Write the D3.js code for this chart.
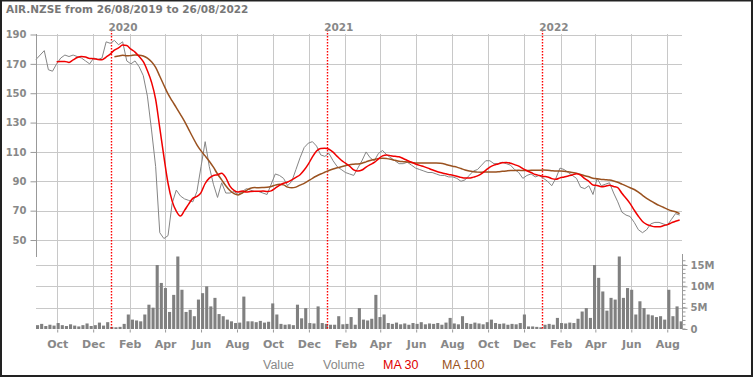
<!DOCTYPE html>
<html>
<head>
<meta charset="utf-8">
<script src="https://cdn.jsdelivr.net/npm/d3@7"></script>
<style>
  body { margin: 0; background: #fff; }
  svg { display: block; }
</style>
</head>
<body>
<div id="chart"></div>
<script>
// Weekly closes (NZD cents) from 26/08/2019, one value per week
const weekStart = "2019-08-26";
const closes = [
  173, 176, 179, 166, 165, 170, 174, 176, 175, 176,
  175, 174, 172, 170, 174, 173, 174, 185, 184, 186,
  183, 185, 172, 170, 172, 168, 162, 148, 125, 100,
  55, 51, 53, 75, 84, 80, 78, 77, 76, 83,
  100, 117, 100, 88, 79, 89, 82, 82, 83, 81,
  83, 85, 84, 83, 83, 82, 81, 88, 95, 94,
  92, 87, 90, 98, 106, 113, 116, 117, 114, 108,
  107, 109, 104, 100, 98, 96, 95, 94, 99, 104,
  110, 106, 104, 109, 111, 108, 106, 104, 102, 102,
  103, 101, 99, 98, 97, 96, 96, 95, 94, 94,
  93, 93, 92, 90, 91, 94, 97, 98, 101, 104,
  104, 102, 102, 103, 102, 101, 98, 96, 92, 94,
  95, 93, 94, 92, 90, 87, 92, 99, 98, 96,
  94, 92, 86, 85, 87, 81, 92, 87, 88, 89,
  82, 76, 69, 67, 66, 62, 57, 55, 57, 61,
  62, 62, 61, 60, 64, 68, 67
];
// Weekly volume, millions of shares
const volumes = [
  0.9, 1.2, 0.7, 1.0, 0.8, 1.4, 0.9, 0.7, 1.1, 0.8,
  0.6, 0.9, 1.3, 0.7, 0.9, 1.5, 0.8, 1.6, 0.5, 0.4,
  0.5, 1.2, 3.4, 2.2, 2.0, 1.8, 3.4, 5.7, 5.0, 15.0,
  10.8, 9.6, 4.0, 8.0, 17.0, 9.2, 4.0, 4.5, 3.0, 6.9,
  8.4, 10.0, 5.3, 7.3, 3.5, 3.0, 2.2, 1.8, 1.4, 1.5,
  7.6, 1.8, 1.8, 1.6, 1.9, 1.5, 1.7, 6.0, 3.4, 1.2,
  1.0, 1.1, 0.9, 5.7, 2.5, 4.9, 1.4, 1.3, 5.3, 1.4,
  1.2, 1.0, 1.0, 3.0, 1.1, 1.2, 2.8, 1.0, 4.9, 2.2,
  2.0, 2.4, 8.0, 2.8, 3.4, 1.4, 1.2, 1.5, 1.1, 1.3,
  1.0, 1.4, 1.2, 1.6, 1.1, 1.3, 1.2, 1.4, 1.0, 1.5,
  2.6, 1.3, 1.1, 3.0, 1.4, 1.2, 1.5, 1.3, 1.1, 1.6,
  2.2, 1.4, 1.2, 1.3, 1.0, 1.2, 1.1, 1.4, 3.4, 0.6,
  0.6, 0.5, 0.4, 1.0, 1.2, 1.0, 2.6, 1.4, 1.3, 1.5,
  1.4, 2.4, 4.1, 4.9, 2.6, 15.0, 12.0, 8.8, 4.3, 7.3,
  6.9, 17.0, 7.3, 9.6, 9.2, 3.4, 6.5, 4.9, 3.4, 3.2,
  2.8, 3.0, 2.2, 9.2, 3.0, 5.3, 1.8
];
const priceTicks = [50, 70, 90, 110, 130, 150, 170, 190];
const volumeTicks = [0, 5, 10, 15];
const monthTicks = [
  "2019-10-01", "2019-12-01", "2020-02-01", "2020-04-01", "2020-06-01", "2020-08-01",
  "2020-10-01", "2020-12-01", "2021-02-01", "2021-04-01", "2021-06-01", "2021-08-01",
  "2021-10-01", "2021-12-01", "2022-02-01", "2022-04-01", "2022-06-01", "2022-08-01"
];
const yearTicks = ["2020-01-01", "2021-01-01", "2022-01-01"];
const legendItems = [
  { label: "Value", color: "#888" },
  { label: "Volume", color: "#888" },
  { label: "MA 30", color: "#e00000" },
  { label: "MA 100", color: "#9a5220" }
];
const title = "AIR.NZSE from 26/08/2019 to 26/08/2022";

const W = 753, H = 377;
const left = 36, right = 682;
const parse = d3.timeParse("%Y-%m-%d");
const t0 = parse(weekStart);
const rows = closes.map((c, i) => ({ date: d3.timeDay.offset(t0, 7 * i), close: c, vol: volumes[i] }));

// moving averages on weekly closes: 30 trading days ~ 6 weeks, 100 ~ 20 weeks
function movingAverage(vals, n) {
  return vals.map((v, i) => i < n - 1 ? null : d3.mean(vals.slice(i - n + 1, i + 1)));
}
const ma30 = movingAverage(closes, 6);
const ma100 = movingAverage(closes, 20);

const x = d3.scaleTime()
  .domain([t0, parse("2022-08-26")])
  .range([left, right]);
const y = d3.scaleLinear().domain([40, 190]).range([254.7, 34.5]);
const yv = d3.scaleLinear().domain([0, 17.35]).range([329, 255]);

const svg = d3.select("#chart").append("svg")
  .attr("width", W).attr("height", H);

svg.append("rect").attr("width", W).attr("height", H).attr("fill", "#fff");

const boldFont = "DejaVu Sans, Verdana, sans-serif";

svg.append("text")
  .attr("x", 6).attr("y", 13)
  .attr("font-family", boldFont).attr("font-weight", "bold")
  .attr("font-size", 10.5).attr("fill", "#777")
  .text(title);

// grid
const grid = svg.append("g").attr("stroke", "#c8c8c8").attr("stroke-width", 1);
grid.selectAll(".hg").data(priceTicks).join("line")
  .attr("x1", left).attr("x2", right)
  .attr("y1", d => Math.round(y(d)) + 0.5).attr("y2", d => Math.round(y(d)) + 0.5);
grid.selectAll(".vg").data(volumeTicks.slice(1)).join("line")
  .attr("x1", left).attr("x2", right)
  .attr("y1", d => Math.round(yv(d)) + 0.5).attr("y2", d => Math.round(yv(d)) + 0.5);
grid.selectAll(".mg").data(monthTicks).join("line")
  .attr("x1", d => Math.round(x(parse(d))) + 0.5).attr("x2", d => Math.round(x(parse(d))) + 0.5)
  .attr("y1", 34).attr("y2", 329);

// volume bars
const barW = (x(d3.timeDay.offset(t0, 7)) - x(t0)) * 0.75;
svg.append("g").attr("fill", "#808080").selectAll("rect").data(rows).join("rect")
  .attr("x", d => x(d.date))
  .attr("width", barW)
  .attr("y", d => yv(d.vol))
  .attr("height", d => yv(0) - yv(d.vol));

// year separators
svg.append("g").selectAll("line").data(yearTicks).join("line")
  .attr("x1", d => Math.round(x(parse(d))) + 0.5).attr("x2", d => Math.round(x(parse(d))) + 0.5)
  .attr("y1", 30).attr("y2", 329)
  .attr("stroke", "#ff0000").attr("stroke-width", 1.4).attr("stroke-dasharray", "1.5,1.5");
svg.append("g").selectAll("text").data(yearTicks).join("text")
  .attr("x", d => x(parse(d)) - 3).attr("y", 31)
  .attr("font-family", boldFont).attr("font-weight", "bold")
  .attr("font-size", 10.5).attr("fill", "#888")
  .text(d => d.slice(0, 4));

// lines
const priceLine = d3.line().x(d => x(d.date)).y(d => y(d.close));
svg.append("path").datum(rows)
  .attr("fill", "none").attr("stroke", "#858585").attr("stroke-width", 1)
  .attr("d", priceLine);

const maLine = d3.line()
  .defined(d => d.v != null)
  .x(d => x(d.date)).y(d => y(d.v))
  .curve(d3.curveMonotoneX);
svg.append("path").datum(rows.map((r, i) => ({ date: r.date, v: ma100[i] })))
  .attr("fill", "none").attr("stroke", "#9a5220").attr("stroke-width", 1.5)
  .attr("d", maLine);
svg.append("path").datum(rows.map((r, i) => ({ date: r.date, v: ma30[i] })))
  .attr("fill", "none").attr("stroke", "#f00000").attr("stroke-width", 1.5)
  .attr("d", maLine);

// left price axis
const yAxis = svg.append("g")
  .attr("transform", `translate(${left + 0.5},0)`)
  .call(d3.axisLeft(y).tickValues(priceTicks).tickSize(6).tickPadding(4));
yAxis.select(".domain").attr("stroke", "#999").attr("d", `M0,34V257`);
yAxis.selectAll(".tick line").attr("stroke", "#999");
yAxis.selectAll("text")
  .attr("font-family", boldFont).attr("font-weight", "bold")
  .attr("font-size", 10).attr("fill", "#888");

// right volume axis
const vAxis = svg.append("g")
  .attr("transform", `translate(${right + 0.5},0)`)
  .call(d3.axisRight(yv).tickValues(volumeTicks).tickSize(5).tickPadding(3)
    .tickFormat(d => d === 0 ? "0" : d + "M"));
vAxis.select(".domain").attr("stroke", "#999").attr("d", `M0,254V329`);
vAxis.selectAll(".tick line").attr("stroke", "#999");
vAxis.selectAll("text")
  .attr("font-family", boldFont).attr("font-weight", "bold")
  .attr("font-size", 10).attr("fill", "#888");
vAxis.append("g").selectAll("line").data(d3.range(0, 17, 1)).join("line")
  .attr("x1", 0).attr("x2", 3)
  .attr("y1", d => yv(d)).attr("y2", d => yv(d))
  .attr("stroke", "#999");

// bottom month axis
const xAxis = svg.append("g")
  .attr("transform", "translate(0,329.5)")
  .call(d3.axisBottom(x).tickValues(monthTicks.map(parse)).tickSize(3).tickPadding(8)
    .tickFormat(d3.timeFormat("%b")));
xAxis.select(".domain").remove();
xAxis.selectAll(".tick line").attr("stroke", "#999");
xAxis.selectAll("text")
  .attr("font-family", boldFont).attr("font-weight", "bold")
  .attr("font-size", 11).attr("fill", "#888");

// legend
const legendX = [263, 323, 383, 442];
svg.append("g").selectAll("text").data(legendItems).join("text")
  .attr("x", (d, i) => legendX[i]).attr("y", 369)
  .attr("font-family", "Liberation Sans, Arial, sans-serif")
  .attr("font-size", 12.5)
  .attr("fill", d => d.color)
  .text(d => d.label);

// frame
svg.append("rect")
  .attr("x", 1).attr("y", 0.5).attr("width", W - 2).attr("height", H - 1.5)
  .attr("fill", "none").attr("stroke", "#222").attr("stroke-width", 2);
</script>
</body>
</html>
